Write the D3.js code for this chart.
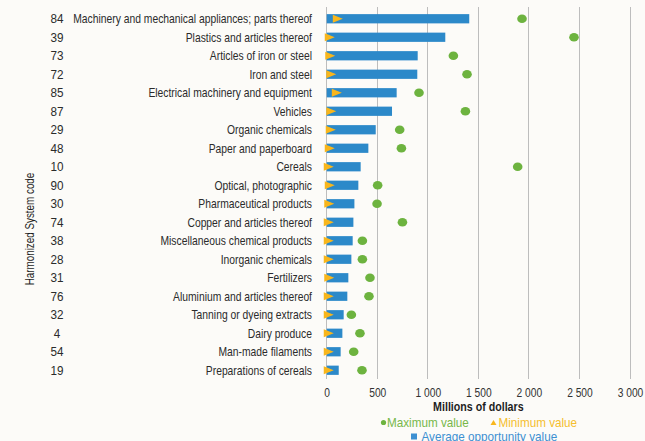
<!DOCTYPE html>
<html>
<head>
<meta charset="utf-8">
<script src="https://cdn.jsdelivr.net/npm/d3@7"></script>
<style>
  html, body { margin: 0; padding: 0; background: #fcfbf8; }
  svg { display: block; }
  text { font-family: "Liberation Sans", Arial, sans-serif; }
</style>
</head>
<body>
<svg id="chart" width="645" height="441"></svg>
<script>
const codes = ["84","39","73","72","85","87","29","48","10","90","30","74","38","28","31","76","32","4","54","19"];
const categories = [
  "Machinery and mechanical appliances; parts thereof",
  "Plastics and articles thereof",
  "Articles of iron or steel",
  "Iron and steel",
  "Electrical machinery and equipment",
  "Vehicles",
  "Organic chemicals",
  "Paper and paperboard",
  "Cereals",
  "Optical, photographic",
  "Pharmaceutical products",
  "Copper and articles thereof",
  "Miscellaneous chemical products",
  "Inorganic chemicals",
  "Fertilizers",
  "Aluminium and articles thereof",
  "Tanning or dyeing extracts",
  "Dairy produce",
  "Man-made filaments",
  "Preparations of cereals"
];
const avgValues = [1410,1173,900,896,692,646,485,412,336,313,274,264,257,244,214,204,168,155,138,119];
const maxValues = [1932,2446,1253,1388,913,1372,722,739,1889,504,498,749,353,353,428,418,244,329,267,349];
const minValues = [110,30,35,45,100,45,40,30,20,30,25,20,20,20,25,20,20,20,20,20];
const xTicks = [0,500,1000,1500,2000,2500,3000];
const xTitle = "Millions of dollars";
const yTitle = "Harmonized System code";
const legendItems = ["Maximum value","Minimum value","Average opportunity value"];

const C = { bar: "#2c89c9", max: "#6db33f", min: "#f8b61c", grid: "#bdbdbd", text: "#2b2b2b",
            legMax: "#77b84a", legMin: "#f5be2e", legAvg: "#3d90d2" };

const svg = d3.select("#chart");
const x = d3.scaleLinear().domain([0,3000]).range([326.7,630]);
const y = d3.scaleBand().domain(d3.range(categories.length)).range([9.5,379.5]).paddingInner(0.5).paddingOuter(0.25);
const yc = i => y(i) + y.bandwidth()/2;

// condensed text helper: horizontally squeezed real text
function ntext(parent, tx, ty, str, opts) {
  const o = Object.assign({size: 12.6, sx: 0.82, anchor: "start", fill: C.text, weight: "normal", rotate: 0, dy: "0.36em"}, opts || {});
  const g = parent.append("g").attr("transform", `translate(${tx},${ty}) rotate(${o.rotate}) scale(${o.sx},1)`);
  return g.append("text").attr("x", 0).attr("y", 0).attr("dy", o.dy)
    .attr("text-anchor", o.anchor).attr("font-size", o.size).attr("font-weight", o.weight)
    .attr("fill", o.fill).text(str);
}

// gridlines
svg.append("g").selectAll("line").data(xTicks).join("line")
  .attr("x1", d => x(d)).attr("x2", d => x(d))
  .attr("y1", 7).attr("y2", 379)
  .attr("stroke", C.grid).attr("stroke-width", 1).attr("shape-rendering","crispEdges");

// x axis tick labels (via d3 axis, then condensed)
const xAxis = d3.axisBottom(x).tickValues(xTicks).tickSize(0).tickPadding(0)
  .tickFormat(d => d3.format(",")(d).replace(/,/g, " "));
const gx = svg.append("g").attr("transform", "translate(0,392.5)").call(xAxis);
gx.select(".domain").remove();
gx.selectAll(".tick text").attr("font-size", 12.5).attr("fill", "#333").attr("y", 0).attr("dy", "0.36em")
  .attr("font-family", null).attr("transform", "scale(0.82,1)");

// x title
ntext(svg, x(1500), 406.5, xTitle, {size: 13, anchor: "middle", weight: "bold", fill: "#1e1e1e"});

// y axis title
ntext(svg, 30, 229, yTitle, {size: 12, anchor: "middle", rotate: -90, fill: "#1e1e1e"});

// codes
const gc = svg.append("g");
codes.forEach((c, i) => ntext(gc, 57, yc(i), c, {size: 13, sx: 0.9, anchor: "middle"}));

// category labels
const gl = svg.append("g");
categories.forEach((c, i) => ntext(gl, 312, yc(i), c, {size: 12.6, anchor: "end"}));

// bars
svg.append("g").selectAll("rect").data(avgValues).join("rect")
  .attr("x", x(0)).attr("y", (d,i) => y(i))
  .attr("width", d => x(d) - x(0)).attr("height", y.bandwidth())
  .attr("fill", C.bar);

// max circles
svg.append("g").selectAll("ellipse").data(maxValues).join("ellipse")
  .attr("cx", d => x(d)).attr("cy", (d,i) => yc(i))
  .attr("rx", 4.8).attr("ry", 4.3).attr("fill", C.max);

// min triangles (pointing right)
const tri = "M-5,-4 L5,0 L-5,4 Z";
svg.append("g").selectAll("path").data(minValues).join("path")
  .attr("d", tri)
  .attr("transform", (d,i) => `translate(${x(d)},${yc(i)})`)
  .attr("fill", C.min);

// legend
const lg = svg.append("g");
lg.append("circle").attr("cx", 383.5).attr("cy", 422.5).attr("r", 2.6).attr("fill", C.max);
ntext(lg, 387, 422.5, legendItems[0], {size: 13, sx: 0.9, fill: C.legMax});
lg.append("path").attr("d", "M-3,2.5 L0,-2.5 L3,2.5 Z").attr("transform","translate(493.5,422.5)").attr("fill", C.min);
ntext(lg, 498.5, 422.5, legendItems[1], {size: 13, sx: 0.9, fill: C.legMin});
lg.append("rect").attr("x", 411).attr("y", 433.5).attr("width", 6).attr("height", 6).attr("fill", C.legAvg);
ntext(lg, 421.5, 436.7, legendItems[2], {size: 13, sx: 0.9, fill: C.legAvg});
</script>
</body>
</html>
